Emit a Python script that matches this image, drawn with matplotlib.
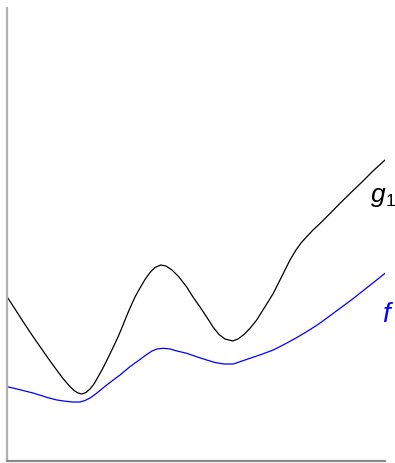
import matplotlib
matplotlib.use("Agg")
from matplotlib import pyplot as plt

# sample points of the two curves (x, value)
g1_x = [7, 15, 23, 33, 41, 49, 57, 63, 69, 74, 78, 82, 86, 90, 94, 98, 103,
        108, 113.3, 118, 122, 126, 130, 135, 140, 145, 150, 155, 160.7, 166,
        172, 179, 186.7, 193, 200, 206.7, 213, 219, 225, 232.7, 238, 244, 250,
        256.7, 262, 268, 273.3, 279, 285, 290, 296, 301, 306.7, 313, 320, 330,
        340, 350, 362, 373, 385]
g1_y = [164.3, 152, 139.5, 124.5, 113, 101.5, 90.5, 82.5, 75.5, 70.5, 68, 67,
        68.5, 72, 77, 84, 93, 103, 114, 124, 133.5, 143.5, 153, 164, 173, 181.5,
        188.5, 193.5, 196, 195, 191, 184, 174, 164, 154, 144, 134, 126.5, 122,
        120, 122, 126.5, 132.7, 141, 149.5, 159, 167.7, 179, 191, 201, 211, 218,
        224.3, 231, 237.5, 247.5, 257.7, 267.5, 279, 290, 301]

f_x = [7, 15, 23, 33, 41, 49, 57, 65, 73, 80, 85, 90, 95, 100, 106, 113.3, 120,
       126, 130, 135, 140, 146, 152, 157, 163.3, 170, 177, 186.7, 196, 206.7,
       215, 224, 233.3, 240, 250, 262, 273.3, 285, 296, 306.7, 318, 329, 340,
       352, 364, 375, 385]
f_y = [74.3, 72.5, 70.5, 68, 65.5, 63, 61, 59.8, 59, 59, 60.5, 63, 66.5, 70.5,
       75.5, 81, 86, 91, 94.3, 98, 101.5, 106, 110, 112, 112.7, 112, 110, 107.7,
       104.5, 101, 98.5, 97, 97, 99.3, 102.7, 106.8, 111, 117, 123, 129.3,
       136.5, 144.5, 152.7, 161.5, 171, 179.7, 187.7]

fig = plt.figure(figsize=(3.95, 4.63), dpi=100)
ax = fig.add_axes([7 / 395, 2 / 463, 378 / 395, 453 / 463])

ax.plot(g1_x, g1_y, color='black', linewidth=0.9)
ax.plot(f_x, f_y, color='blue', linewidth=0.9)

# curve names: italic letter, upright subscript
label_font = 'Liberation Sans'
ax.text(371, 259, 'g', fontsize=19, fontstyle='italic', family=label_font,
        color='black', va='baseline', clip_on=False)
ax.text(385.5, 255, '1', fontsize=12.5, family=label_font,
        color='black', va='baseline', clip_on=False)
ax.text(382, 139, 'f', fontsize=20, fontstyle='italic', family=label_font,
        color='blue', va='baseline', clip_on=False)

ax.set_xlim(7, 385)
ax.set_ylim(0, 453)
ax.set_xticks([])
ax.set_yticks([])
for side in ['top', 'right']:
    ax.spines[side].set_visible(False)
ax.spines['left'].set_color('#b0b0b0')
ax.spines['left'].set_linewidth(1.6)
ax.spines['bottom'].set_color('#8a8a8a')
ax.spines['bottom'].set_linewidth(1.6)

fig.savefig("out.png", dpi=100)
